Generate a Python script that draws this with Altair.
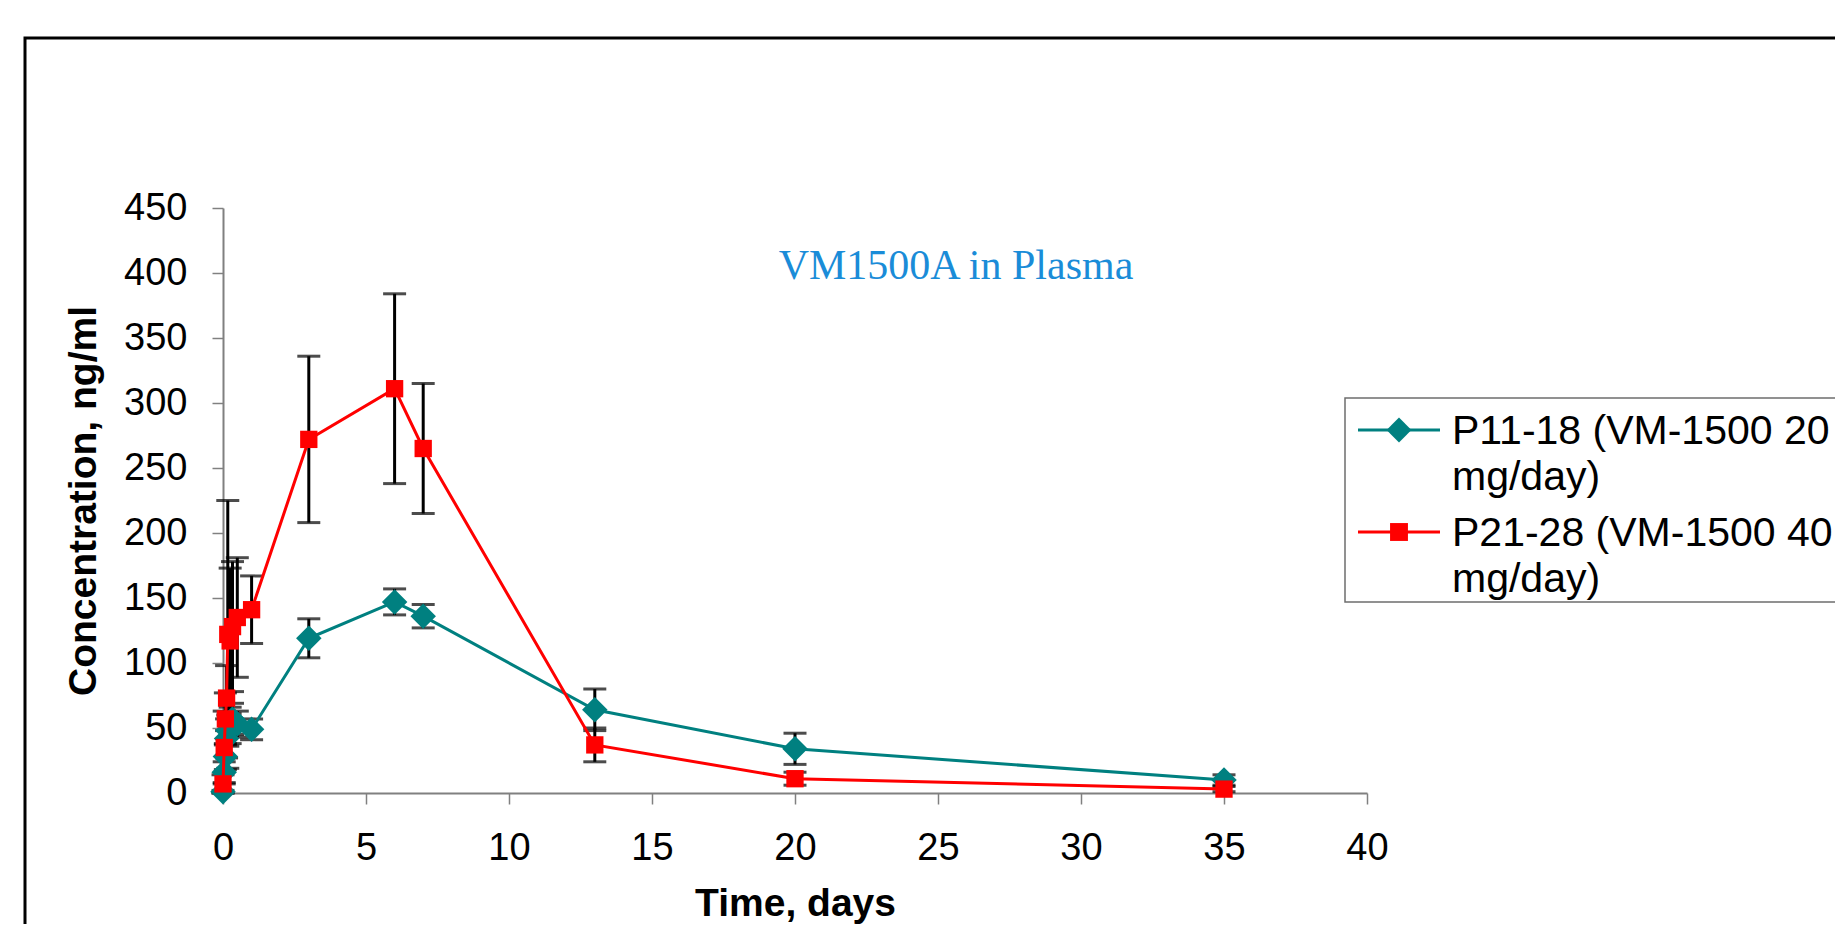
import altair as alt
import pandas as pd

# ---------------- data ----------------
series_names = ["P11-18 (VM-1500 20 mg/day)", "P21-28 (VM-1500 40 mg/day)"]
series_colors = ["#008080", "#FF0000"]
series_shapes = ["diamond", "square"]

time_days = [0, 0.042, 0.083, 0.125, 0.167, 0.25, 0.333, 0.5, 1, 3, 6, 7, 13, 20, 35]
conc_20 = [1, 16, 28, 42, 48, 52, 57, 53, 49, 119, 147, 136, 64, 34, 10]
sd_20 = [1, 8, 10, 15, 12, 14, 12, 10, 8, 15, 10, 9, 16, 12, 4]
conc_40 = [7, 35, 57, 73, 122, 117, 128, 135, 141, 272, 311, 265, 37, 11, 3]
sd_40 = [7, 28, 20, 25, 103, 56, 50, 46, 26, 64, 73, 50, 13, 5, 2]

x_ticks = [0, 5, 10, 15, 20, 25, 30, 35, 40]
y_ticks = [0, 50, 100, 150, 200, 250, 300, 350, 400, 450]

chart_title = "VM1500A in Plasma"
x_title = "Time, days"
y_title = "Concentration, ng/ml"

rows = []
for name, conc, sd in zip(series_names, [conc_20, conc_40], [sd_20, sd_40]):
    for t, v, s in zip(time_days, conc, sd):
        rows.append({"series": name, "t": t, "v": v, "lo": max(v - s, 0), "hi": v + s})
df = pd.DataFrame(rows)

W, H = 1144, 585
FONT = "Liberation Sans"

x_enc = alt.X("t:Q", title=x_title,
              scale=alt.Scale(domain=[0, 40], nice=False, zero=False),
              axis=alt.Axis(values=x_ticks, titlePadding=17, labelFlush=False,
                            labelOverlap=False, labelBound=False))


def y_enc(field):
    return alt.Y(field, title=y_title,
                 scale=alt.Scale(domain=[0, 450], nice=False),
                 axis=alt.Axis(values=y_ticks, titlePadding=20, labelFlush=False,
                               labelOverlap=False, labelBound=False))


color_enc = alt.Color("series:N", scale=alt.Scale(domain=series_names, range=series_colors), legend=None)
shape_enc = alt.Shape("series:N", scale=alt.Scale(domain=series_names, range=series_shapes), legend=None)
size_enc = alt.Size("series:N", scale=alt.Scale(domain=series_names, range=[650, 300]), legend=None)

one = pd.DataFrame({"k": [0]})

# outer frame (extends past the page on right / bottom)
frame = alt.Chart(one).mark_rect(fill="white", fillOpacity=0, stroke="black", strokeWidth=3).encode(
    x=alt.value(-198), x2=alt.value(1800), y=alt.value(-170), y2=alt.value(900))

layers = [frame]

base = alt.Chart(df)
err_rules = base.mark_rule(color="black", strokeWidth=3).encode(
    x=x_enc, y=y_enc("lo:Q"), y2="hi:Q")
caps = base.transform_fold(["lo", "hi"], as_=["which", "cap"]).mark_tick(
    orient="horizontal", size=23, thickness=3, color="black").encode(
    x=x_enc, y=y_enc("cap:Q"))
layers += [err_rules, caps]

for name in series_names:
    sub = base.transform_filter(alt.datum.series == name)
    line = sub.mark_line(strokeWidth=3).encode(x=x_enc, y=y_enc("v:Q"), color=color_enc, order="t:Q")
    pts = sub.mark_point(filled=True, opacity=1).encode(
        x=x_enc, y=y_enc("v:Q"), color=color_enc, shape=shape_enc, size=size_enc)
    layers += [line, pts]

# title text inside plot
title_txt = alt.Chart(one).mark_text(font="Liberation Serif", fontSize=42, color="#1a8cd8",
                                     align="center", baseline="alphabetic").encode(
    x=alt.value(733), y=alt.value(71), text=alt.value(chart_title))
layers.append(title_txt)

# manual legend
legend_box = alt.Chart(one).mark_rect(fill="white", stroke="#6e6e6e", strokeWidth=1.5).encode(
    x=alt.value(1122), x2=alt.value(1800), y=alt.value(190), y2=alt.value(394))
layers.append(legend_box)
for i, (name, col, shp) in enumerate(zip(series_names, series_colors, series_shapes)):
    yrow = 222 + i * 102
    lg_line = alt.Chart(one).mark_rule(color=col, strokeWidth=3).encode(
        x=alt.value(1135), x2=alt.value(1217), y=alt.value(yrow))
    lg_pt = alt.Chart(one).mark_point(filled=True, opacity=1, color=col, shape=shp,
                                      size=620 if shp == "diamond" else 320).encode(
        x=alt.value(1176), y=alt.value(yrow))
    lg_txt = alt.Chart(one).mark_text(font=FONT, fontSize=41, color="black", align="left",
                                      baseline="alphabetic", lineBreak="\n", lineHeight=46).encode(
        x=alt.value(1229), y=alt.value(yrow + 14), text=alt.value(name.replace(" mg/", "\nmg/")))
    layers += [lg_line, lg_pt, lg_txt]

chart = alt.layer(*layers).properties(
    width=W, height=H,
    autosize=alt.AutoSizeParams(type="none"),
    padding={"left": 215, "top": 200, "right": 468, "bottom": 131},
    background="white",
).configure_axis(
    labelFont=FONT, labelFontSize=38, labelColor="black",
    titleFont=FONT, titleFontSize=39, titleFontWeight="bold", titleColor="black",
    domainColor="#808080", domainWidth=2, tickColor="#808080", tickWidth=1.5, tickSize=11,
    labelPadding=25, grid=False,
).configure_view(stroke=None)

chart.save("out.html", embed_options={"renderer": "svg", "actions": False})
